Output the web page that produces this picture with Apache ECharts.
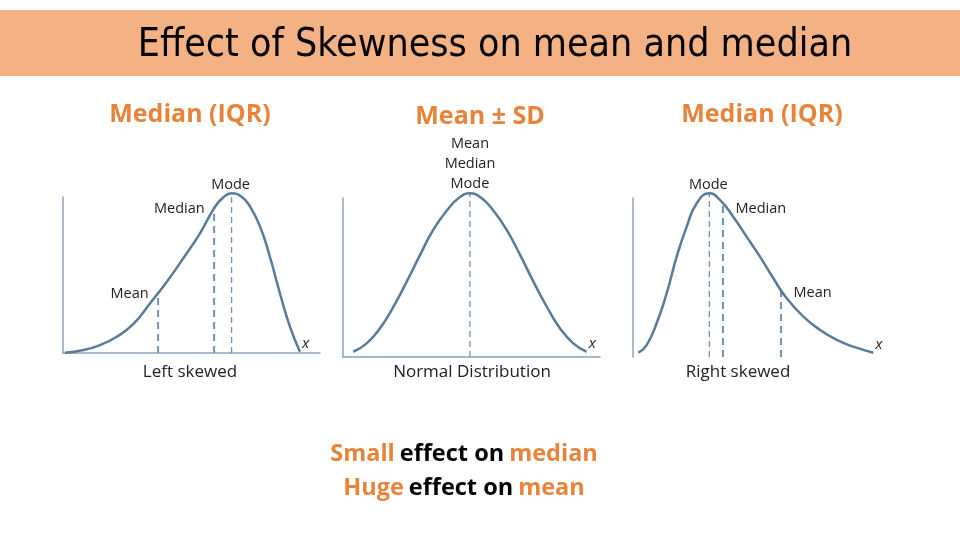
<!DOCTYPE html>
<html>
<head>
<meta charset="utf-8">
<script src="https://cdn.jsdelivr.net/npm/echarts@6/dist/echarts.min.js"></script>
<style>html,body{margin:0;padding:0;background:#fff;}#c{width:960px;height:540px;}</style>
</head>
<body>
<div id="c"></div>
<script>
// ---- data (abstract units: x 0..100 across each panel, y 0..100 density height) ----
const leftCurve = [[0.8,0.2],[7.9,1.9],[14.4,5.1],[20.9,10.4],[27.4,18.6],[33.9,31.9],[40.4,45.7],[46.8,60.7],[53.3,76.7],[58.8,92.8],[62.4,99.8],[65.6,102.4],[69.5,100.2],[72.8,93.8],[76.7,81.0],[80.5,61.7],[84.4,38.3],[88.3,16.9],[92.2,0.8]];
const normalCurve = [[4.0,3.3],[9.2,8.6],[14.4,18.1],[19.6,31.6],[24.8,47.4],[30.0,64.2],[35.1,79.9],[40.4,92.1],[44.9,99.8],[49.4,103.0],[54.0,99.8],[58.5,92.1],[63.7,79.9],[68.9,64.2],[74.1,47.4],[79.3,31.6],[84.4,18.1],[89.6,8.6],[94.8,3.3]];
const rightCurve = [[2.1,2.7],[5.3,7.5],[9.2,21.2],[13.1,40.1],[17.0,63.1],[20.9,82.0],[24.8,96.7],[29.7,103.0],[33.9,98.7],[39.0,88.2],[44.2,75.7],[49.4,63.1],[54.6,49.5],[59.8,36.9],[66.3,25.4],[72.8,17.0],[79.3,10.7],[85.7,6.5],[93.5,2.7]];

const leftMarkNames = ['Mean','Median','Mode'];
const leftMarkX = [37.0, 58.8, 65.6];
const leftMarkY = [38.5, 92.8, 102.4];
const normalMarkNames = ['Mean\nMedian\nMode'];
const normalMarkX = [49.4];
const normalMarkY = [103.0];
const rightMarkNames = ['Mode','Median','Mean'];
const rightMarkX = [29.7, 35.0, 57.6];
const rightMarkY = [103.0, 95.5, 42.2];

const panelCaptions = ['Left skewed','Normal Distribution','Right skewed'];
const panelHeadings = ['Median (IQR)','Mean ± SD','Median (IQR)'];
const mainTitle = 'Effect of Skewness on mean and median';

// ---- styles ----
const ORANGE = '#E8833A';
const CURVE = '#5A7A9A';
const DASH = '#6F93B8';
const AXIS = '#8FA3B6';
const SMALLFONT = '"Open Sans", "DejaVu Sans", sans-serif';

function axes(idx, showX) {
  return {
    x: {type:'value', gridIndex: idx, min:0, max:100,
        axisLine:{show:showX, onZero:false, lineStyle:{color:AXIS, width:1.5}},
        axisTick:{show:false}, axisLabel:{show:false}, splitLine:{show:false}},
    y: {type:'value', gridIndex: idx, min:0, max:100,
        axisLine:{show:true, lineStyle:{color:AXIS, width:1.5}},
        axisTick:{show:false}, axisLabel:{show:false}, splitLine:{show:false}}
  };
}
const a0 = axes(0, true), a1 = axes(1, true), a2 = axes(2, false);

function curveSeries(idx, pts) {
  return {type:'line', xAxisIndex:idx, yAxisIndex:idx, data:pts, smooth:0.5, showSymbol:false,
    symbol:'none', clip:false, lineStyle:{color:CURVE, width:2.5}, silent:true, z:3,
    endLabel:{show:true, formatter:'x', distance:2, offset:[0,-8],
      fontStyle:'italic', fontSize:15, color:'#222', fontFamily:SMALLFONT}};
}

function markSeries(idx, names, xs, ys, cfg) {
  return names.map((n, i) => {
    const c = cfg[i];
    return {type:'line', xAxisIndex:idx, yAxisIndex:idx, clip:false, silent:true, z:2,
      symbol:'circle', symbolSize:1, showSymbol:true, itemStyle:{color:'rgba(0,0,0,0)'},
      lineStyle:{color:DASH, width:c.w, type:c.dash},
      label:{show:false},
      data:[[xs[i], 0], {value:[xs[i], ys[i]],
        label:{show:true, formatter:n, position:c.pos, distance:c.dist, offset:c.off || [0,0],
          fontSize:14.5, lineHeight:20, color:'#222', fontFamily:SMALLFONT}}]};
  });
}

const thin = {w:1.3, dash:[6,4]};
const thick = {w:2, dash:[7,5]};

const series = [
  curveSeries(0, leftCurve),
  curveSeries(1, normalCurve),
  curveSeries(2, rightCurve),
  ...markSeries(0, leftMarkNames, leftMarkX, leftMarkY, [
    Object.assign({pos:'left', dist:9, off:[0,1]}, thick),
    Object.assign({pos:'left', dist:9, off:[0,1]}, thick),
    Object.assign({pos:'top', dist:1, off:[-1,3]}, thin)]),
  ...markSeries(1, normalMarkNames, normalMarkX, normalMarkY, [
    Object.assign({pos:'top', dist:1, off:[0,2]}, thin)]),
  ...markSeries(2, rightMarkNames, rightMarkX, rightMarkY, [
    Object.assign({pos:'top', dist:1, off:[-1,3]}, thin),
    Object.assign({pos:'right', dist:12, off:[0,4]}, thick),
    Object.assign({pos:'right', dist:12, off:[0,3]}, thick)])
];

const headingStyle = {color:ORANGE, fontSize:25, fontFamily:SMALLFONT, fontWeight:'bold'};
const captionStyle = {color:'#222', fontSize:17, fontFamily:SMALLFONT, fontWeight:'normal'};

const option = {
  backgroundColor:'#ffffff',
  animation:false,
  graphic:[{type:'rect', left:0, top:10, shape:{width:960, height:66}, style:{fill:'#F4B183'}, z:-1}],
  title:[
    {text:mainTitle, left:490, top:21, textAlign:'center',
     textStyle:{fontSize:39, fontWeight:'normal', color:'#000', fontFamily:'"Liberation Sans Narrow", "DejaVu Sans Condensed", sans-serif'}},
    {text:panelHeadings[0], left:185, top:97, textAlign:'center', textStyle:headingStyle},
    {text:panelHeadings[1], left:475, top:99, textAlign:'center', textStyle:headingStyle},
    {text:panelHeadings[2], left:757, top:97, textAlign:'center', textStyle:headingStyle},
    {text:panelCaptions[0], left:185, top:359, textAlign:'center', textStyle:captionStyle},
    {text:panelCaptions[1], left:467, top:359, textAlign:'center', textStyle:captionStyle},
    {text:panelCaptions[2], left:733, top:359, textAlign:'center', textStyle:captionStyle},
    {text:'{o|Small} {b|effect on} {o|median}\n{o|Huge} {b|effect on} {o|mean}', left:459, top:432, textAlign:'center',
     textStyle:{rich:{
       o:{color:ORANGE, fontSize:23.5, fontWeight:'bold', fontFamily:SMALLFONT, lineHeight:34},
       b:{color:'#000', fontSize:23.5, fontWeight:'bold', fontFamily:SMALLFONT, lineHeight:34}}}}
  ],
  grid:[
    {left:63, top:197, width:257, height:156},
    {left:343, top:198, width:257, height:159},
    {left:633, top:198, width:257, height:159}
  ],
  xAxis:[a0.x, a1.x, a2.x],
  yAxis:[a0.y, a1.y, a2.y],
  series
};

const chart = echarts.init(document.getElementById('c'), null, {renderer:'canvas'});
chart.setOption(option);
</script>
</body>
</html>
